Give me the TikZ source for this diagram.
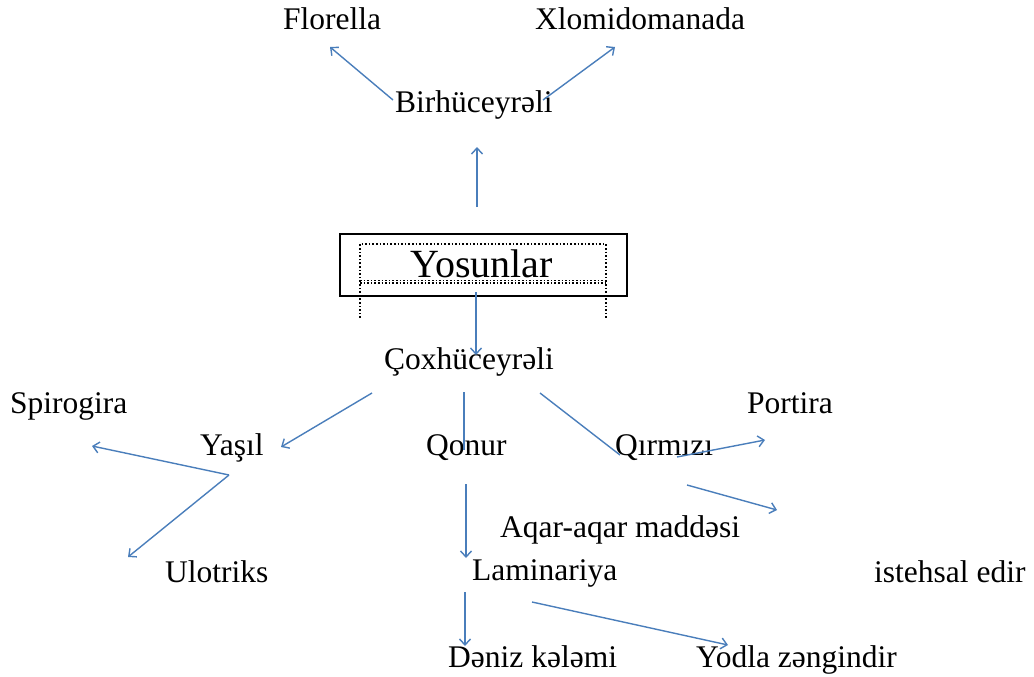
\documentclass[tikz,border=0pt]{standalone}
\usepackage{fontspec}
\setmainfont{Liberation Serif}
\usetikzlibrary{arrows.meta}
\definecolor{arrowblue}{HTML}{4A7EBB}
\tikzset{
  lbl/.style={anchor=base west, inner sep=0pt, font=\fontsize{31.5}{36}\selectfont},
  big/.style={anchor=base west, inner sep=0pt, font=\fontsize{40}{44}\selectfont},
  arr/.style={draw=arrowblue, line width=1.4pt, -{Straight Barb[length=6pt,width=11pt]}},
  ln/.style={draw=arrowblue, line width=1.4pt},
  dots/.style={draw=black, line width=1.6pt, dotted}
}
\begin{document}
\begin{tikzpicture}[x=1pt,y=-1pt]
\useasboundingbox (0,0) rectangle (1034,677);
% nodes
\node[lbl] (flo) at (283,30) {Florella};
\node[lbl] (xlo) at (535,30) {Xlomidomanada};
\node[lbl] (bir) at (395,113) {Birhüceyrəli};
\node[big] (yos) at (410,277) {Yosunlar};
\node[lbl] (cox) at (384,369) {Çoxhüceyrəli};
\node[lbl] (spi) at (10,413) {Spirogira};
\node[lbl] (yas) at (200,455) {Yaşıl};
\node[lbl] (qon) at (426,455) {Qonur};
\node[lbl] (qir) at (615,455) {Qırmızı};
\node[lbl] (por) at (747,413) {Portira};
\node[lbl] (aqa) at (500,537) {Aqar-aqar maddəsi};
\node[lbl] (ulo) at (165,582) {Ulotriks};
\node[lbl] (lam) at (472,580) {Laminariya};
\node[lbl] (ist) at (874,582) {istehsal edir};
\node[lbl] (den) at (448,667) {Dəniz kələmi};
\node[lbl] (yod) at (696,667) {Yodla zəngindir};
% box
\coordinate (boxA) at (340,234);
\coordinate (boxB) at (627,296);
\draw[line width=2pt] (boxA) rectangle (boxB);
\coordinate (dTL) at (360,244);
\coordinate (dTR) at (606,244);
\coordinate (dBL) at (360,318);
\coordinate (dBR) at (606,318);
\coordinate (dML) at (360,283);
\coordinate (dMR) at (606,283);
\draw[dots] (dBL) -- (dTL) -- (dTR) -- (dBR);
\draw[dots] (dML) -- (dMR);
\draw[dots] ([yshift=2.5pt]dML) -- ([yshift=2.5pt]dMR);
% arrow coordinates
\coordinate (a1s) at (393,100); \coordinate (a1e) at (330,47);
\coordinate (a2s) at (543,100); \coordinate (a2e) at (615,47);
\coordinate (a3s) at (477,207); \coordinate (a3e) at (477,147);
\coordinate (a4s) at (476,292); \coordinate (a4e) at (476,355);
\coordinate (a5s) at (372,393); \coordinate (a5e) at (281,447);
\coordinate (a6s) at (464,392); \coordinate (a6e) at (464,450);
\coordinate (a7s) at (540,393); \coordinate (a7e) at (620,455);
\coordinate (ysp) at (229,475);
\coordinate (a8e) at (92,446);
\coordinate (a9e) at (128,557);
\coordinate (a10s) at (677,457); \coordinate (a10e) at (765,440);
\coordinate (a11s) at (687,485); \coordinate (a11e) at (777,510);
\coordinate (a12s) at (466,484); \coordinate (a12e) at (466,558);
\coordinate (a13s) at (465,592); \coordinate (a13e) at (465,646);
\coordinate (a14s) at (532,602); \coordinate (a14e) at (728,645);
% arrows
\draw[arr] (a1s) -- (a1e);
\draw[arr] (a2s) -- (a2e);
\draw[arr] (a3s) -- (a3e);
\draw[arr] (a4s) -- (a4e);
\draw[arr] (a5s) -- (a5e);
\draw[ln] (a6s) -- (a6e);
\draw[ln] (a7s) -- (a7e);
\draw[arr] (ysp) -- (a8e);
\draw[arr] (ysp) -- (a9e);
\draw[arr] (a10s) -- (a10e);
\draw[arr] (a11s) -- (a11e);
\draw[arr] (a12s) -- (a12e);
\draw[arr] (a13s) -- (a13e);
\draw[arr] (a14s) -- (a14e);
\end{tikzpicture}
\end{document}
